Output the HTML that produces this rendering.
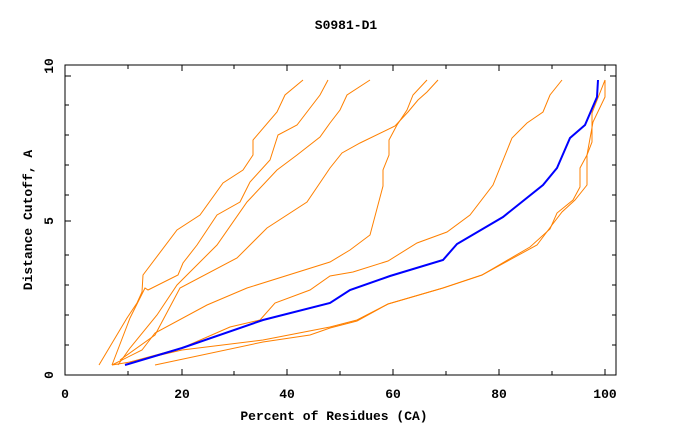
<!DOCTYPE html>
<html><head><style>body{margin:0;background:#fff}</style></head><body>
<svg width="680" height="440" xmlns="http://www.w3.org/2000/svg" font-family="Liberation Mono, monospace" font-weight="bold">
<rect width="680" height="440" fill="#fff"/>
<text x="346" y="29" font-size="13" text-anchor="middle">S0981-D1</text>
<rect x="65" y="65" width="551" height="310" fill="none" stroke="#000" stroke-width="1"/>
<g stroke="#000" stroke-width="1">
<path d="M128,375v-4M182,375v-6M234,375v-4M287,375v-6M340,375v-4M393,375v-6M446,375v-4M499,375v-6M552,375v-4M605,375v-6"/>
<path d="M128,65v4M182,65v6M234,65v4M287,65v6M340,65v4M393,65v6M446,65v4M499,65v6M552,65v4M605,65v6"/>
<path d="M65,345h4M65,315h4M65,285h4M65,255h4M65,221h6M65,195h4M65,165h4M65,135h4M65,105h4M65,76h6"/>
<path d="M616,345h-4M616,315h-4M616,285h-4M616,255h-4M616,221h-6M616,195h-4M616,165h-4M616,135h-4M616,105h-4M616,76h-6"/>
</g>
<g font-size="13" text-anchor="middle">
<text x="65" y="398">0</text><text x="182" y="398">20</text><text x="287" y="398">40</text>
<text x="393" y="398">60</text><text x="499" y="398">80</text><text x="605" y="398">100</text>
<text transform="translate(53,375) rotate(-90)" y="0">0</text>
<text transform="translate(53,221) rotate(-90)">5</text>
<text transform="translate(53,66) rotate(-90)">10</text>
<text x="334" y="420">Percent of Residues (CA)</text>
<text transform="translate(32,220) rotate(-90)">Distance Cutoff, A</text>
</g>
<g fill="none" stroke="#ff8000" stroke-width="1">
<polyline points="99,365 127,318 137,303 142,292 143,275 177,230 200,215 223,183 243,170 253,155 253,140 277,112 285,95 303,80"/>
<polyline points="112,365 130,318 145,288 148,290 178,275 183,263 197,245 217,215 240,202 250,182 270,160 278,135 297,125 320,95 328,80"/>
<polyline points="118,365 130,348 157,315 177,285 217,245 247,202 277,170 297,155 320,137 330,123 340,110 347,95 370,80"/>
<polyline points="120,360 155,335 180,288 237,258 267,228 307,202 330,168 342,153 360,143 395,126 408,112 418,100 427,92 438,80"/>
<polyline points="112,365 142,350 155,333 207,305 247,288 330,262 350,250 370,235 383,186 383,170 389,155 389,140 397,125 407,110 413,95 427,80"/>
<polyline points="112,365 130,362 182,348 230,327 260,320 275,303 310,290 330,276 353,272 388,261 417,243 447,232 470,215 493,185 512,138 527,123 543,112 550,95 562,80"/>
<polyline points="130,362 182,350 263,340 330,327 357,320 388,304 443,288 482,275 530,247 550,229 557,213 573,200 580,187 580,168 587,155 592,142 592,113 605,80"/>
<polyline points="155,365 263,342 310,335 330,328 357,321 388,304 443,288 482,275 537,245 552,225 562,212 575,200 587,185 587,155 593,122 605,97 605,80"/>
</g>
<polyline fill="none" stroke="#0000ff" stroke-width="2" points="125,365 182,348 263,320 330,303 350,290 390,276 443,260 457,244 503,217 543,185 557,168 570,138 585,125 597,97 598,80"/>
</svg>
</body></html>
